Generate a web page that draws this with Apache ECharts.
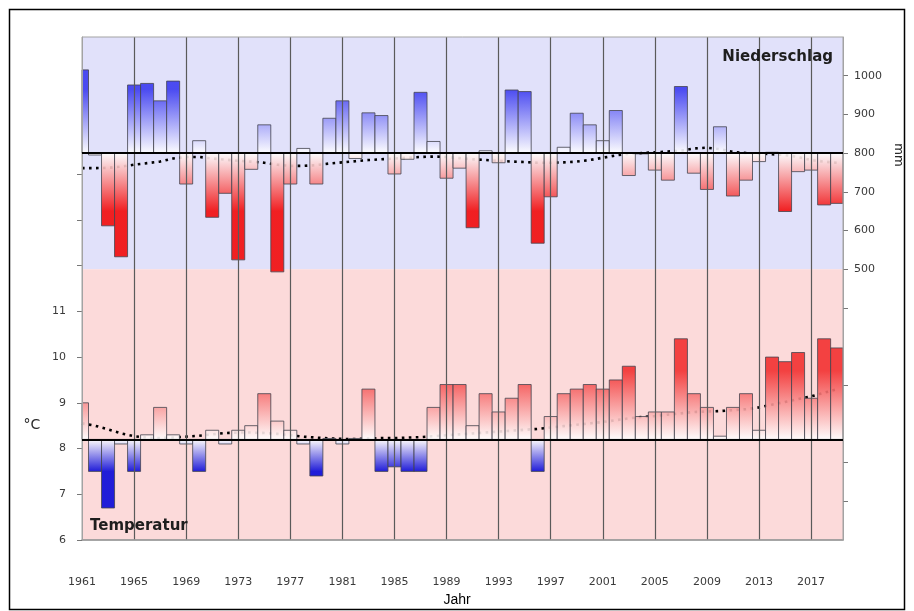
<!DOCTYPE html>
<html>
<head>
<meta charset="utf-8">
<title>Niederschlag und Temperatur 1961–2019</title>
<script src="https://cdn.jsdelivr.net/npm/echarts@6/dist/echarts.min.js"></script>
<style>
  html, body { margin: 0; padding: 0; background: #ffffff; }
  #chart { width: 914px; height: 611px; }
</style>
</head>
<body>
<div id="chart"></div>
<script>
// Jahre 1961–2019
const jahre = [
  1961,1962,1963,1964,1965,1966,1967,1968,1969,1970,
  1971,1972,1973,1974,1975,1976,1977,1978,1979,1980,
  1981,1982,1983,1984,1985,1986,1987,1988,1989,1990,
  1991,1992,1993,1994,1995,1996,1997,1998,1999,2000,
  2001,2002,2003,2004,2005,2006,2007,2008,2009,2010,
  2011,2012,2013,2014,2015,2016,2017,2018,2019
];

// Jahresniederschlag in mm
const niederschlag = [
  1015, 795, 612, 532, 976, 980, 935, 986, 720, 832,
  634, 696, 524, 758, 873, 493, 720, 812, 720, 890,
  935, 786, 904, 897, 746, 784, 957, 830, 735, 761,
  607, 806, 775, 963, 959, 567, 687, 815, 903, 873,
  832, 910, 742, 798, 756, 730, 972, 748, 706, 868,
  689, 730, 778, 802, 649, 752, 756, 666, 670
];

// geglätteter Verlauf des Niederschlags
const niederschlagTrend = [
  761, 761, 762, 765, 770, 774, 778, 786, 790, 790,
  786, 783, 780, 778, 775, 770, 767, 767, 769, 773,
  776, 779, 782, 784, 786, 788, 790, 791, 790, 787,
  784, 782, 780, 778, 777, 775, 775, 776, 778, 782,
  788, 794, 798, 800, 802, 804, 806, 812, 814, 810,
  803, 800, 799, 797, 795, 790, 782, 778, 775
];

// Jahresmitteltemperatur in °C
const temperatur = [
  9.0, 7.5, 6.7, 8.1, 7.5, 8.3, 8.9, 8.3, 8.1, 7.5,
  8.4, 8.1, 8.4, 8.5, 9.2, 8.6, 8.4, 8.1, 7.4, 8.22,
  8.1, 8.22, 9.3, 7.5, 7.6, 7.5, 7.5, 8.9, 9.4, 9.4,
  8.5, 9.2, 8.8, 9.1, 9.4, 7.5, 8.7, 9.2, 9.3, 9.4,
  9.3, 9.5, 9.8, 8.7, 8.8, 8.8, 10.4, 9.2, 8.9, 8.27,
  8.9, 9.2, 8.4, 10.0, 9.9, 10.1, 9.1, 10.4, 10.2
];

// geglätteter Verlauf der Temperatur
const temperaturTrend = [
  8.55, 8.50, 8.42, 8.33, 8.27, 8.24, 8.23, 8.24, 8.26, 8.28,
  8.31, 8.34, 8.35, 8.35, 8.34, 8.32, 8.29, 8.26, 8.24, 8.22,
  8.21, 8.21, 8.22, 8.23, 8.23, 8.24, 8.25, 8.27, 8.29, 8.31,
  8.33, 8.35, 8.37, 8.39, 8.41, 8.43, 8.46, 8.49, 8.52, 8.55,
  8.58, 8.62, 8.66, 8.69, 8.71, 8.74, 8.77, 8.80, 8.81, 8.82,
  8.84, 8.86, 8.90, 8.96, 9.02, 9.08, 9.14, 9.22, 9.30
];

// Bezugswerte (waagrechte Nulllinien der beiden Teildiagramme)
const niederschlagBezug = 800;
const temperaturBezug = 8.2;

// Achsbeschriftungen
const jahrLabels = [1961,1965,1969,1973,1977,1981,1985,1989,1993,1997,2001,2005,2009,2013,2017];
const mmLabels = [500, 600, 700, 800, 900, 1000];
const mmTicks = [-100, 0, 200, 400, 500, 600, 700, 800, 900, 1000];
const gradLabels = [6, 7, 8, 9, 10, 11];
const gradTicks = [6, 7, 8, 9, 10, 11, 12, 13, 14];

const startJahr = jahre[0];
const chart = echarts.init(document.getElementById('chart'), null, { renderer: 'canvas' });

// Balken zwischen Bezugslinie und Wert, Farbverlauf an der Achse verankert
function balken(bezug, obenVoll, untenVoll, farbeOben, farbeUnten) {
  return function (params, api) {
    const x = api.value(0);
    const v = api.value(1);
    const pv = api.coord([x, v]);
    const pb = api.coord([x, bezug]);
    const w = api.size([1, 0])[0];
    const hoch = v >= bezug;
    const pe = api.coord([x, hoch ? obenVoll : untenVoll]);
    const rect = echarts.graphic.clipRectByRect({
      x: pv[0] - w / 2,
      y: Math.min(pv[1], pb[1]),
      width: w,
      height: Math.abs(pb[1] - pv[1])
    }, params.coordSys);
    if (!rect) return null;
    const fill = {
      type: 'linear', global: true,
      x: 0, y: pb[1], x2: 0, y2: pe[1],
      colorStops: [
        { offset: 0, color: '#ffffff' },
        { offset: 1, color: hoch ? farbeOben : farbeUnten }
      ]
    };
    return {
      type: 'rect',
      shape: rect,
      style: { fill: fill, stroke: '#45454f', lineWidth: 0.9, opacity: 0.9 }
    };
  };
}

const fontLabel = "'DejaVu Sans', Verdana, sans-serif";

const option = {
  backgroundColor: '#ffffff',
  animation: false,
  grid: {
    left: 82, right: 71, top: 37, bottom: 71,
    show: true, z: 4,
    backgroundColor: 'transparent',
    borderColor: '#a3a3a3', borderWidth: 1
  },
  xAxis: {
    type: 'value',
    min: 0, max: 58.45, interval: 4,
    z: 3,
    axisLine: { show: true, onZero: false, lineStyle: { color: '#8c8c8c', width: 1.5 } },
    axisTick: { show: false },
    axisLabel: {
      margin: 37, color: '#3a3a3a', fontSize: 11, fontFamily: fontLabel,
      showMaxLabel: false,
      formatter: function (v) {
        const j = startJahr + Math.round(v);
        return jahrLabels.indexOf(j) >= 0 && Math.abs(v - Math.round(v)) < 1e-6 ? String(j) : '';
      }
    },
    splitLine: { show: true, showMinLine: false, showMaxLine: false, lineStyle: { color: '#5a5a5a', width: 1.2 } }
  },
  yAxis: [
    {
      type: 'value', position: 'left',
      min: 6, max: 17, interval: 1, z: 3,
      axisLine: { show: true, onZero: false, lineStyle: { color: '#a3a3a3' } },
      axisTick: { show: true, length: 5, lineStyle: { color: '#777777' }, customValues: gradTicks },
      axisLabel: {
        margin: 16, color: '#3a3a3a', fontSize: 11, fontFamily: fontLabel,
        customValues: gradLabels,
        formatter: function (v) { return gradLabels.indexOf(v) >= 0 ? String(v) : ''; }
      },
      splitLine: { show: false }
    },
    {
      type: 'value', position: 'right',
      min: -200, max: 1100, interval: 100, z: 3,
      axisLine: { show: true, onZero: false, lineStyle: { color: '#a3a3a3' } },
      axisTick: { show: true, length: 5, lineStyle: { color: '#777777' }, customValues: mmTicks },
      axisLabel: {
        margin: 11, color: '#3a3a3a', fontSize: 11, fontFamily: fontLabel,
        customValues: mmLabels,
        formatter: function (v) { return mmLabels.indexOf(v) >= 0 ? String(v) : ''; }
      },
      splitLine: { show: false }
    }
  ],
  series: [
    {
      name: 'Niederschlag Verlauf',
      type: 'line',
      yAxisIndex: 1,
      z: 1,
      showSymbol: false,
      silent: true,
      data: jahre.map(function (j, i) { return [j - startJahr, niederschlagTrend[i]]; }),
      lineStyle: { color: '#000000', width: 2.6, type: [2.6, 4.4] },
      markArea: {
        silent: true, z: 0,
        data: [
          [{ yAxis: 500, itemStyle: { color: '#e1e1fa' } }, { yAxis: 1100 }],
          [{ yAxis: -200, itemStyle: { color: '#fcdada' } }, { yAxis: 500 }]
        ]
      },
      markLine: {
        silent: true, symbol: 'none', z: 5,
        label: { show: false },
        lineStyle: { color: '#000000', width: 2, type: 'solid' },
        data: [{ yAxis: niederschlagBezug }]
      }
    },
    {
      name: 'Temperatur Verlauf',
      type: 'line',
      yAxisIndex: 0,
      z: 1,
      showSymbol: false,
      silent: true,
      data: jahre.map(function (j, i) { return [j - startJahr, temperaturTrend[i]]; }),
      lineStyle: { color: '#000000', width: 2.6, type: [2.6, 4.4] },
      markLine: {
        silent: true, symbol: 'none', z: 5,
        label: { show: false },
        lineStyle: { color: '#000000', width: 2, type: 'solid' },
        data: [{ yAxis: temperaturBezug }]
      }
    },
    {
      name: 'Niederschlag',
      type: 'custom',
      yAxisIndex: 1,
      z: 2,
      silent: true,
      renderItem: balken(niederschlagBezug, 965, 650, '#3a3af0', '#f20a0a'),
      encode: { x: 0, y: 1 },
      data: jahre.map(function (j, i) { return [j - startJahr, niederschlag[i]]; })
    },
    {
      name: 'Temperatur',
      type: 'custom',
      yAxisIndex: 0,
      z: 2,
      silent: true,
      renderItem: balken(temperaturBezug, 9.7, 7.5, '#f23030', '#0808d8'),
      encode: { x: 0, y: 1 },
      data: jahre.map(function (j, i) { return [j - startJahr, temperatur[i]]; })
    }
  ],
  graphic: [
    {
      type: 'rect', silent: true, z: 10,
      shape: { x: 9.5, y: 9.5, width: 895, height: 600 },
      style: { fill: 'none', stroke: '#000000', lineWidth: 1.5 }
    },
    {
      type: 'text', z: 10, x: 833, y: 57,
      style: { text: 'Niederschlag', fill: '#1e1e1e', font: "bold 15px 'DejaVu Sans', Verdana, sans-serif", align: 'right', verticalAlign: 'middle' }
    },
    {
      type: 'text', z: 10, x: 90, y: 526,
      style: { text: 'Temperatur', fill: '#1e1e1e', font: "bold 15px 'DejaVu Sans', Verdana, sans-serif", align: 'left', verticalAlign: 'middle' }
    },
    {
      type: 'text', z: 10, x: 32, y: 425,
      style: { text: '°C', fill: '#2a2a2a', font: "14px 'DejaVu Sans', Verdana, sans-serif", align: 'center', verticalAlign: 'middle' }
    },
    {
      type: 'text', z: 10, x: 457, y: 600,
      style: { text: 'Jahr', fill: '#000000', font: "14px 'Liberation Sans', Arial, sans-serif", align: 'center', verticalAlign: 'middle' }
    },
    {
      type: 'text', z: 10, x: 898, y: 155, rotation: -Math.PI / 2,
      style: { text: 'mm', fill: '#2a2a2a', font: "12px 'DejaVu Sans', Verdana, sans-serif", align: 'center', verticalAlign: 'middle' }
    }
  ]
};

chart.setOption(option);
</script>
</body>
</html>
